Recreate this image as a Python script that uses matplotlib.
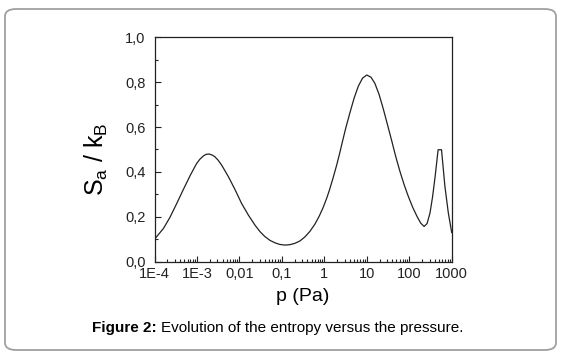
import matplotlib
matplotlib.use("Agg")
import matplotlib.pyplot as plt
from matplotlib.patches import FancyBboxPatch
from matplotlib.ticker import FixedLocator, LogLocator, NullFormatter, MultipleLocator
import numpy as np

plt.rcParams['font.family'] = ['Liberation Sans', 'DejaVu Sans']
plt.rcParams['mathtext.fontset'] = 'custom'
plt.rcParams['mathtext.rm'] = 'Liberation Sans'

# data (log10 of pressure in Pa, entropy in k_B)
log_p = [-4.0, -3.79, -3.635, -3.48, -3.32, -3.16, -3.01, -2.93, -2.85, -2.79,
         -2.72, -2.65, -2.58, -2.5, -2.42, -2.26, -2.10, -1.95, -1.79, -1.63,
         -1.515, -1.40, -1.28, -1.16, -1.05, -0.93, -0.81, -0.69, -0.57, -0.46,
         -0.34, -0.22, -0.12, -0.025, 0.06, 0.13, 0.21, 0.29, 0.36, 0.42,
         0.5, 0.6, 0.7, 0.8, 0.9, 1.0, 1.1, 1.19, 1.29, 1.39,
         1.49, 1.59, 1.68, 1.78, 1.88, 1.98, 2.08, 2.18, 2.27, 2.35,
         2.42, 2.49, 2.55, 2.61, 2.68, 2.76, 2.84, 2.92, 3.0]
entropy = [0.100, 0.148, 0.198, 0.258, 0.322, 0.384, 0.437, 0.457, 0.471, 0.478,
           0.480, 0.476, 0.468, 0.452, 0.431, 0.379, 0.320, 0.260, 0.208, 0.162,
           0.134, 0.112, 0.095, 0.084, 0.077, 0.074, 0.076, 0.082, 0.093, 0.110,
           0.135, 0.168, 0.203, 0.243, 0.285, 0.325, 0.376, 0.430, 0.482, 0.530,
           0.592, 0.662, 0.728, 0.782, 0.818, 0.832, 0.822, 0.795, 0.745, 0.680,
           0.609, 0.537, 0.470, 0.403, 0.343, 0.290, 0.243, 0.203, 0.172, 0.157,
           0.170, 0.218, 0.290, 0.380, 0.499, 0.499, 0.336, 0.218, 0.13]

xticks = [1e-4, 1e-3, 1e-2, 1e-1, 1, 10, 100, 1000]
xticklabels = ['1E-4', '1E-3', '0,01', '0,1', '1', '10', '100', '1000']
yticks = [0.0, 0.2, 0.4, 0.6, 0.8, 1.0]
yticklabels = ['0,0', '0,2', '0,4', '0,6', '0,8', '1,0']

p = 10 ** np.array(log_p)

fig = plt.figure(figsize=(5.61, 3.58), dpi=100)

# rounded frame round the figure
frame = FancyBboxPatch((5 / 561, 8 / 358), 551 / 561, 341 / 358,
                       boxstyle="round,pad=0,rounding_size=0.02",
                       transform=fig.transFigure, fill=False,
                       edgecolor='#a0a0a0', linewidth=1.3)
fig.patches.append(frame)

ax = fig.add_axes([154.5 / 561, 1 - 261.7 / 358, 297.2 / 561, 224.4 / 358])
ax.plot(p, entropy, color='#222222', linewidth=0.9)

ax.set_xscale('log')
ax.set_xlim(1e-4, 1000)
ax.set_ylim(0, 1.0)
ax.xaxis.set_major_locator(FixedLocator(xticks))
ax.set_xticklabels(xticklabels)
ax.xaxis.set_minor_locator(LogLocator(base=10, subs=np.arange(2, 10)))
ax.xaxis.set_minor_formatter(NullFormatter())
ax.yaxis.set_major_locator(FixedLocator(yticks))
ax.set_yticklabels(yticklabels)
ax.yaxis.set_minor_locator(MultipleLocator(0.1))

ax.tick_params(which='both', direction='in', top=False, right=False,
               labelsize=10.5, colors='#222222', width=0.8)
ax.tick_params(which='major', length=4)
ax.tick_params(axis='x', which='major', pad=4)
ax.tick_params(axis='y', which='major', pad=6.5)
ax.tick_params(which='minor', length=2.2)
for s in ax.spines.values():
    s.set_linewidth(0.9)
    s.set_color('#222222')

ax.set_xlabel('p (Pa)', fontsize=14, labelpad=5)
ax.set_ylabel(r'S$_\mathregular{a}$ / k$_\mathregular{B}$', fontsize=18)
ax.yaxis.set_label_coords((110 - 154.5) / 297.2, (261.7 - 159) / 224.4)

fig.text(157 / 561, 1 - 328 / 358, 'Figure 2:', fontsize=11, fontweight='bold',
         ha='right', va='center')
fig.text(161 / 561, 1 - 328 / 358, 'Evolution of the entropy versus the pressure.',
         fontsize=11, ha='left', va='center')

fig.savefig('out.png', dpi=100)
